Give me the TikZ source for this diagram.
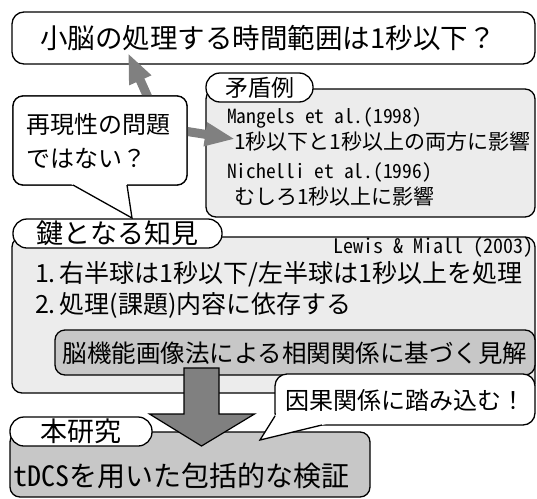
\documentclass[tikz,border=0pt]{standalone}
\usepackage{fontspec}
\setmainfont{Noto Sans CJK JP}
\newfontfamily\hw{Noto Sans CJK JP}[RawFeature=+hwid]
\usetikzlibrary{arrows.meta,calc}
\definecolor{lightfill}{gray}{0.925}
\definecolor{midfill}{gray}{0.78}
\definecolor{arrowgray}{gray}{0.5}
\tikzset{
  panel/.style={draw=black, line width=1.3pt, rounded corners=10pt, anchor=north west, inner sep=0pt, outer sep=0pt},
  tabbox/.style={draw=black, line width=1.3pt, fill=white, rounded corners=14pt, anchor=north west, inner sep=0pt, outer sep=0pt},
  txt/.style={inner sep=0pt, outer sep=0pt, anchor=west},
  ctxt/.style={inner sep=0pt, outer sep=0pt},
  thinarrow/.style={draw=arrowgray, line width=9pt, -{Triangle[width=22pt,length=30pt]}},
  bigarrow/.style={draw=black, line width=1.2pt, fill=arrowgray, line join=miter},
  tailline/.style={draw=black, line width=1.3pt, line join=miter},
}
\newcommand{\fs}[1]{\fontsize{#1}{#1}\selectfont}
\begin{document}
\begin{tikzpicture}[x=1pt,y=-1pt]
\useasboundingbox (0,0) rectangle (537,498);
\clip (0,0) rectangle (537,498);

% question box
\node[panel, fill=white, rounded corners=12pt, minimum width=523pt, minimum height=52pt] (q) at (12,12) {};
\node[ctxt] (qt) at (268,38) {\fs{27.5}小脳の処理する時間範囲は1秒以下？};

% bubble 1 (node first, drawn later on top)
\node[panel, fill=white, minimum width=174pt, minimum height=89pt] (b1) at (13,96) {};

% arrow from bubble to question
\draw[thinarrow] ($(b1.north)+(50,6)$) -- ($(q.south)+(-145.5,-11)$);

% contradiction box
\node[panel, fill=lightfill, minimum width=329pt, minimum height=128pt] (mbox) at (206,89) {};
\node[tabbox, minimum width=107pt, minimum height=29pt] (mtab) at (206,73) {};
\node[ctxt] (mtabt) at (mtab.center) {\fs{23}矛盾例};

% arrow from bubble to contradiction box
\draw[thinarrow] ($(b1.east)+(-6,-10)$) -- ($(mbox.west)+(29,-14)$);

\node[txt] (m1) at (227,118) {\hw\fs{19.5}Mangels et al.(1998)};
\node[txt] (m2) at (234,142) {\fs{21}1秒以下と1秒以上の両方に影響};
\node[txt] (m3) at (227,172) {\hw\fs{19.5}Nichelli et al.(1996)};
\node[txt] (m4) at (234,197) {\fs{21}むしろ1秒以上に影響};

% bubble 1 redraw on top with tail
\node[panel, fill=white, minimum width=174pt, minimum height=89pt] (b1v) at (13,96) {};
\coordinate (b1ta) at (73,185);
\coordinate (b1tb) at (127,185);
\coordinate (b1tip) at (132,218);
\fill[white] ($(b1tip)!1.12!(b1ta)$) -- (b1tip) -- ($(b1tip)!1.12!(b1tb)$) -- cycle;
\draw[tailline] (b1ta) -- (b1tip) -- (b1tb);
\node[txt] (b1t1) at (26,124) {\fs{24}再現性の問題};
\node[txt] (b1t2) at (26,158) {\fs{24}ではない？};

% key findings box
\node[panel, fill=lightfill, minimum width=523pt, minimum height=156pt] (kbox) at (12,237) {};
\node[tabbox, minimum width=209pt, minimum height=29pt] (ktab) at (13,219) {};
\node[ctxt] (ktabt) at (ktab.center) {\fs{27}鍵となる知見};
\node[ctxt, anchor=east] (lewis) at (533,247) {\hw\fs{20}Lewis \& Miall (2003)};
\node[txt] (k1) at (35,274) {\fs{25}1.\,右半球は1秒以下/左半球は1秒以上を処理};
\node[txt] (k2) at (35,305) {\fs{25}2.\,処理(課題)内容に依存する};
\node[panel, fill=midfill, minimum width=480pt, minimum height=45pt] (inner) at (55,330) {};
\node[ctxt] (innert) at (295,353) {\fs{24.5}脳機能画像法による相関関係に基づく見解};

% this study box
\node[panel, fill=midfill, minimum width=360pt, minimum height=65pt] (hbox) at (10,432) {};
\node[tabbox, minimum width=142pt, minimum height=29pt] (htab) at (10,417) {};
\node[ctxt] (htabt) at (htab.center) {\fs{27}本研究};
\node[txt] (ht) at (13,476) {\fs{28}{\hw tDCS}を用いた包括的な検証};

% big arrow
\coordinate (bs) at ($(inner.south)+(-93.5,-7)$);
\coordinate (bt) at ($(hbox.north)+(11.5,14)$);
\draw[bigarrow] ($(bs)+(-17.5,0)$) -- ($(bs)+(17.5,0)$) -- ($(bt)+(17.5,-32)$) -- ($(bt)+(53,-32)$) -- (bt) -- ($(bt)+(-52,-32)$) -- ($(bt)+(-17.5,-32)$) -- cycle;

% bubble 2
\node[panel, fill=white, rounded corners=12pt, minimum width=260pt, minimum height=51pt] (b2) at (275,374) {};
\coordinate (b2ta) at (275,416);
\coordinate (b2tb) at (322,425);
\coordinate (b2tip) at (260,440);
\fill[white] ($(b2tip)!1.3!(b2ta)$) -- (b2tip) -- ($(b2tip)!1.15!(b2tb)$) -- cycle;
\draw[tailline] (b2ta) -- (b2tip) -- (b2tb);
\node[ctxt] (b2t) at (405,400) {\fs{24}因果関係に踏み込む！};
\end{tikzpicture}
\end{document}
